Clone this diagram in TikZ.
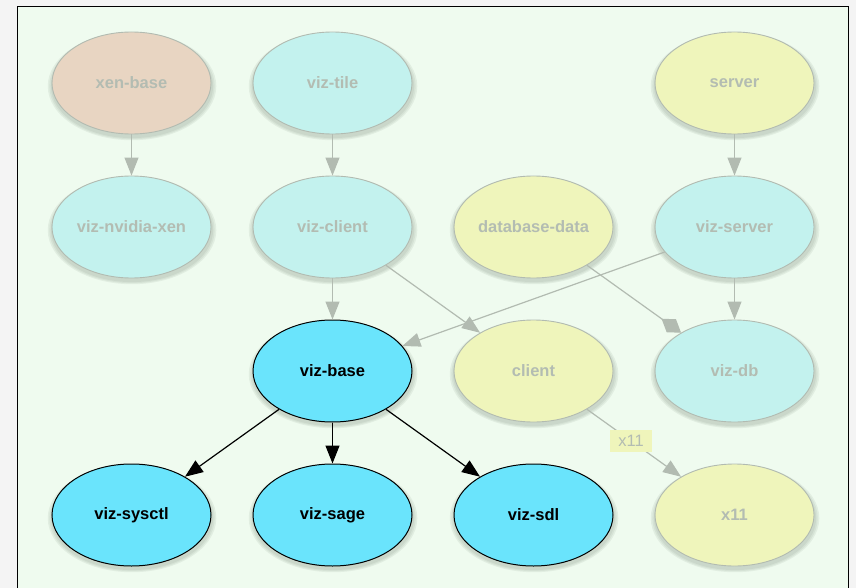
\documentclass[tikz,border=0pt]{standalone}
\usepackage{fontspec}
\setmainfont{Liberation Sans}
\usetikzlibrary{shapes.geometric,arrows.meta,shadows}

\definecolor{outerbg}{HTML}{F4F4F4}
\definecolor{innerbg}{HTML}{EFFBEF}
\definecolor{dimline}{HTML}{B2BBB1}
\definecolor{dimtext}{HTML}{B3BCB2}
\definecolor{tanfill}{HTML}{E8D5C2}
\definecolor{palefill}{HTML}{C3F2EE}
\definecolor{yelfill}{HTML}{EFF5BB}
\definecolor{hotfill}{HTML}{6AE4FC}
\definecolor{shadowcol}{HTML}{5E6E5E}

\tikzset{
  softshadow/.style={drop shadow={shadow xshift=0.5pt, shadow yshift=-3pt,
      shadow scale=#1, opacity=0.09, fill=shadowcol, draw=none}},
  pkg/.style={ellipse, minimum width=159pt, minimum height=102pt, inner sep=0pt,
    font=\bfseries\fontsize{16.5}{18}\selectfont,
    softshadow=1.06, softshadow=1.04, softshadow=1.02},
  dimpkg/.style={pkg, draw=dimline, line width=0.9pt, text=dimtext},
  tanpkg/.style={dimpkg, fill=tanfill},
  palepkg/.style={dimpkg, fill=palefill},
  yelpkg/.style={dimpkg, fill=yelfill},
  hotpkg/.style={pkg, draw=black, line width=1pt, fill=hotfill, text=black},
  dimdep/.style={draw=dimline, line width=1.2pt, -{Triangle[length=18pt,width=14pt]}},
  dimopt/.style={draw=dimline, line width=1.2pt,
    -{Diamond[length=24pt,width=16pt,fill=dimline]}},
  hotdep/.style={draw=black, line width=1.2pt, -{Triangle[length=18pt,width=14pt]}},
  deplabel/.style={fill=yelfill, text=dimtext, font=\fontsize{16.5}{18}\selectfont,
    inner xsep=8pt, inner ysep=5pt}
}

\begin{document}
\begin{tikzpicture}[x=1pt, y=-1pt]
  % page and framed canvas
  \fill[outerbg] (0,0) rectangle (856,588);
  \useasboundingbox (0,0) rectangle (856,588);
  \fill[innerbg] (17.5,6.5) rectangle (848.5,600);
  \draw[black, line width=1.4pt] (17.5,600) -- (17.5,6.5) -- (848.5,6.5) -- (848.5,600);

  % packages
  \node[tanpkg]  (xenbase)   at (131.5, 83)  {xen-base};
  \node[palepkg] (viztile)   at (332.5, 83)  {viz-tile};
  \node[yelpkg]  (server)    at (734.5, 83)  {server};
  \node[palepkg] (viznvidia) at (131.5, 227) {viz-nvidia-xen};
  \node[palepkg] (vizclient) at (332.5, 227) {viz-client};
  \node[yelpkg]  (dbdata)    at (533.5, 227) {database-data};
  \node[palepkg] (vizserver) at (734.5, 227) {viz-server};
  \node[hotpkg]  (vizbase)   at (332.5, 371) {viz-base};
  \node[yelpkg]  (client)    at (533.5, 371) {client};
  \node[palepkg] (vizdb)     at (734.5, 371) {viz-db};
  \node[hotpkg]  (vizsysctl) at (131.5, 515) {viz-sysctl};
  \node[hotpkg]  (vizsage)   at (332.5, 515) {viz-sage};
  \node[hotpkg]  (vizsdl)    at (533.5, 515) {viz-sdl};
  \node[yelpkg]  (xeleven)   at (734.5, 515) {x11};

  % dependencies
  \draw[dimdep] (xenbase) -- (viznvidia);
  \draw[dimdep] (viztile) -- (vizclient);
  \draw[dimdep] (server) -- (vizserver);
  \draw[dimdep] (vizclient) -- (vizbase);
  \draw[dimdep] (vizclient) -- (client);
  \draw[dimdep] (vizserver) -- (vizbase);
  \draw[dimdep] (vizserver) -- (vizdb);
  \draw[dimopt] (dbdata) -- (vizdb);
  \draw[dimdep] (client) -- node[deplabel, pos=0.47] {x11} (xeleven);
  \draw[hotdep] (vizbase) -- (vizsysctl);
  \draw[hotdep] (vizbase) -- (vizsage);
  \draw[hotdep] (vizbase) -- (vizsdl);
\end{tikzpicture}
\end{document}
